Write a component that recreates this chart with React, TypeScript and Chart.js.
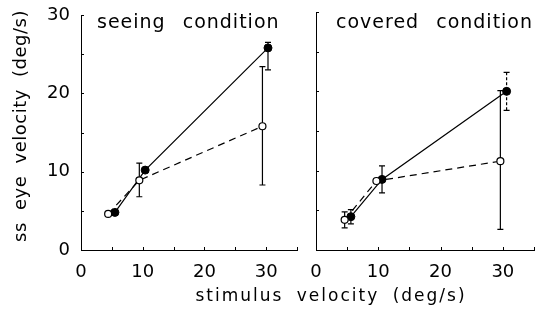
import { useEffect, useRef } from 'react';
import { Chart, registerables } from 'chart.js';
Chart.register(...registerables);

// ---- data ----
const seeingFilledX = [5.5, 10.4, 30.3];
const seeingFilledY = [4.8, 10.2, 25.8];
const seeingOpenX = [4.4, 9.45, 29.4];
const seeingOpenY = [4.6, 8.9, 15.8];
const seeingErrX = [9.45, 29.4, 30.3];
const seeingErrLow = [6.8, 8.3, 23.0];
const seeingErrHigh = [11.1, 23.4, 26.5];
const seeingErrDashed = [false, false, false];

const coveredFilledX = [5.6, 10.6, 30.6];
const coveredFilledY = [4.2, 8.9, 20.0];
const coveredOpenX = [4.6, 9.7, 29.6];
const coveredOpenY = [3.8, 8.7, 11.2];
const coveredErrX = [4.6, 5.6, 10.6, 29.6, 30.6];
const coveredErrLow = [2.8, 3.3, 7.2, 2.6, 17.6];
const coveredErrHigh = [4.8, 5.1, 10.6, 20.1, 22.4];
const coveredErrDashed = [false, false, false, false, true];

const xTickLabels = ['0', '10', '20', '30'];
const yTickLabels = ['0', '10', '20', '30'];
const panelTitles = ['seeing condition', 'covered condition'];
const yTitle = 'ss eye velocity (deg/s)';
const xTitle = 'stimulus velocity (deg/s)';

const FONT = '"DejaVu Sans", sans-serif';

type Panel = {
  filledX: number[]; filledY: number[]; openX: number[]; openY: number[];
  errX: number[]; errLow: number[]; errHigh: number[]; errDashed: boolean[];
  title: string; left: boolean;
};

const panels: Panel[] = [
  { filledX: seeingFilledX, filledY: seeingFilledY, openX: seeingOpenX, openY: seeingOpenY,
    errX: seeingErrX, errLow: seeingErrLow, errHigh: seeingErrHigh, errDashed: seeingErrDashed,
    title: panelTitles[0], left: true },
  { filledX: coveredFilledX, filledY: coveredFilledY, openX: coveredOpenX, openY: coveredOpenY,
    errX: coveredErrX, errLow: coveredErrLow, errHigh: coveredErrHigh, errDashed: coveredErrDashed,
    title: panelTitles[1], left: false },
];

function makeConfig(p: Panel): any {
  const pts = (xs: number[], ys: number[]) => xs.map((x, i) => ({ x, y: ys[i] }));
  const errPlugin = {
    id: 'errbars',
    beforeDatasetsDraw(chart: any) {
      const { ctx, scales } = chart;
      const xs = scales.x, ys = scales.y;
      ctx.save();
      ctx.strokeStyle = '#000';
      ctx.lineWidth = 1.2;
      p.errX.forEach((ex, i) => {
        const px = xs.getPixelForValue(ex);
        const yl = ys.getPixelForValue(p.errLow[i]);
        const yh = ys.getPixelForValue(p.errHigh[i]);
        ctx.setLineDash(p.errDashed[i] ? [3, 2] : []);
        ctx.beginPath();
        ctx.moveTo(px, yl); ctx.lineTo(px, yh);
        ctx.stroke();
        ctx.setLineDash([]);
        ctx.beginPath();
        ctx.moveTo(px - 3, yl); ctx.lineTo(px + 3, yl);
        ctx.moveTo(px - 3, yh); ctx.lineTo(px + 3, yh);
        ctx.stroke();
      });
      ctx.restore();
    },
  };
  const decoPlugin = {
    id: 'deco',
    afterDraw(chart: any) {
      const { ctx, scales, chartArea } = chart;
      const xs = scales.x, ys = scales.y;
      ctx.save();
      ctx.strokeStyle = '#000';
      ctx.lineWidth = 1;
      ctx.beginPath();
      for (let v = 5; v <= 35; v += 5) {
        const px = Math.round(xs.getPixelForValue(v)) + 0.5;
        ctx.moveTo(px, chartArea.bottom); ctx.lineTo(px, chartArea.bottom - 3);
      }
      for (let v = 5; v <= 30; v += 5) {
        const py = Math.round(ys.getPixelForValue(v)) + 0.5;
        ctx.moveTo(chartArea.left, py); ctx.lineTo(chartArea.left + 3, py);
      }
      ctx.stroke();
      ctx.fillStyle = '#000';
      ctx.font = `19px ${FONT}`;
      (ctx as any).letterSpacing = '1px';
      (ctx as any).wordSpacing = '10px';
      ctx.textAlign = 'left';
      ctx.textBaseline = 'alphabetic';
      ctx.fillText(p.title, chartArea.left + (p.left ? 16 : 20), 28);
      if (p.left) {
        ctx.font = `18px ${FONT}`;
        (ctx as any).letterSpacing = '0.5px';
        (ctx as any).wordSpacing = '6px';
        ctx.save();
        ctx.translate(21, 126);
        ctx.rotate(-Math.PI / 2);
        ctx.textAlign = 'center';
        ctx.textBaseline = 'middle';
        ctx.fillText(yTitle, 0, 0);
        ctx.restore();
        ctx.font = `17px ${FONT}`;
        (ctx as any).letterSpacing = '2px';
        (ctx as any).wordSpacing = '6px';
        ctx.textAlign = 'center';
        ctx.textBaseline = 'middle';
        ctx.fillText(xTitle, 331, 297);
      }
      ctx.restore();
    },
  };
  return {
    type: 'scatter',
    data: {
      datasets: [
        {
          data: pts(p.openX, p.openY), showLine: true, borderColor: '#000', borderWidth: 1.2,
          borderDash: [7, 5], pointRadius: 3.5, pointBackgroundColor: '#fff', pointBorderColor: '#000',
          pointBorderWidth: 1.2, clip: false,
        },
        {
          data: pts(p.filledX, p.filledY), showLine: true, borderColor: '#000', borderWidth: 1.2,
          pointRadius: 4, pointBackgroundColor: '#000', pointBorderColor: '#000', pointBorderWidth: 1,
          clip: false,
        },
      ],
    },
    options: {
      responsive: false,
      animation: false,
      events: [],
      layout: { padding: p.left ? { left: 0, top: 15, right: 244, bottom: 0 } : { left: 0, top: 12, right: 7, bottom: 0 } },
      plugins: { legend: { display: false }, tooltip: { enabled: false }, title: { display: false } },
      scales: {
        x: {
          type: 'linear', min: 0, max: 35,
          grid: { display: false, drawTicks: false },
          border: { display: true, color: '#000', width: 1 },
          ticks: {
            stepSize: 5, autoSkip: false, maxRotation: 0, padding: 12, color: '#000',
            font: { family: FONT, size: 18 },
            callback: (v: number) => (xTickLabels.includes(String(v)) ? String(v) : ''),
          },
          afterFit: (s: any) => { s.height = 76; s.paddingLeft = 0; s.paddingRight = 0; },
        },
        y: {
          type: 'linear', min: 0, max: 30,
          grid: { display: false, drawTicks: false },
          border: { display: true, color: '#000', width: 1 },
          ticks: {
            display: p.left, stepSize: 5, autoSkip: false, padding: 11, color: '#000',
            font: { family: FONT, size: 18 },
            callback: (v: number) => (yTickLabels.includes(String(v)) ? String(v) : ''),
          },
          afterFit: (s: any) => { s.width = p.left ? 81 : 16; s.paddingTop = 0; s.paddingBottom = 0; },
        },
      },
    },
    plugins: [errPlugin, decoPlugin],
  };
}

export default function App() {
  const leftRef = useRef<HTMLCanvasElement>(null);
  const rightRef = useRef<HTMLCanvasElement>(null);
  useEffect(() => {
    const c1 = new Chart(leftRef.current!, makeConfig(panels[0]));
    const c2 = new Chart(rightRef.current!, makeConfig(panels[1]));
    return () => { c1.destroy(); c2.destroy(); };
  }, []);
  return (
    <div style={{ position: 'absolute', left: 0, top: 0, width: 541, height: 326, background: '#fff', overflow: 'hidden' }}>
      <canvas ref={leftRef} width={541} height={326} style={{ position: 'absolute', left: 0, top: 0, width: 541, height: 326 }} />
      <canvas ref={rightRef} width={241} height={326} style={{ position: 'absolute', left: 300, top: 0, width: 241, height: 326 }} />
    </div>
  );
}
